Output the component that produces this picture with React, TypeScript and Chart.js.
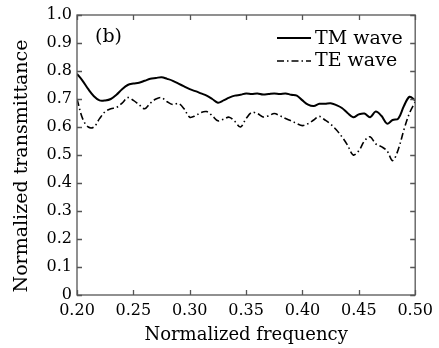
import { useEffect, useRef } from "react";
import { Chart, registerables } from "chart.js";

Chart.register(...registerables);

const frequency = [
  0.2, 0.205, 0.21, 0.215, 0.22, 0.225, 0.23, 0.235, 0.24, 0.245,
  0.25, 0.255, 0.26, 0.265, 0.27, 0.275, 0.28, 0.285, 0.29, 0.295,
  0.3, 0.305, 0.31, 0.315, 0.32, 0.325, 0.33, 0.335, 0.34, 0.345,
  0.35, 0.355, 0.36, 0.365, 0.37, 0.375, 0.38, 0.385, 0.39, 0.395,
  0.4, 0.405, 0.41, 0.415, 0.42, 0.425, 0.43, 0.435, 0.44, 0.445,
  0.45, 0.455, 0.46, 0.465, 0.47, 0.475, 0.48, 0.485, 0.49, 0.495, 0.5,
];

const tmWave = [
  0.79, 0.765, 0.735, 0.71, 0.695, 0.695, 0.7, 0.715, 0.735, 0.75,
  0.755, 0.758, 0.765, 0.772, 0.775, 0.778, 0.772, 0.765, 0.755, 0.745,
  0.735, 0.728, 0.72, 0.712, 0.7, 0.687, 0.695, 0.705, 0.712, 0.715,
  0.72, 0.718, 0.72, 0.716, 0.718, 0.72, 0.718, 0.72, 0.715, 0.712,
  0.695, 0.68, 0.675, 0.683, 0.683, 0.685, 0.678, 0.668, 0.65, 0.635,
  0.645, 0.648, 0.635, 0.655, 0.64, 0.612, 0.625, 0.63, 0.675, 0.708, 0.695,
];

const teWave = [
  0.7, 0.63, 0.6, 0.6, 0.63, 0.655, 0.665, 0.67, 0.685, 0.705,
  0.695, 0.68, 0.665, 0.685, 0.7, 0.705, 0.69, 0.68, 0.684, 0.665,
  0.635, 0.64, 0.652, 0.655, 0.64, 0.622, 0.628, 0.635, 0.62, 0.6,
  0.63, 0.652, 0.648, 0.636, 0.64, 0.648, 0.64, 0.63, 0.622, 0.612,
  0.605, 0.612, 0.625, 0.638, 0.625, 0.61, 0.59, 0.565, 0.535, 0.5,
  0.515, 0.55, 0.565, 0.54, 0.53, 0.515, 0.48, 0.52, 0.59, 0.65, 0.69,
];

const seriesNames = ["TM wave", "TE wave"];
const panelLabel = "(b)";
const xTitle = "Normalized frequency";
const yTitle = "Normalized transmittance";

const FONT = "'DejaVu Serif', serif";
const TE_DASH = [7, 3, 1.5, 3];

const decor = {
  id: "decor",
  beforeDraw(chart: any) {
    const { ctx, width, height } = chart;
    ctx.save();
    ctx.fillStyle = "#ffffff";
    ctx.fillRect(0, 0, width, height);
    ctx.restore();
  },
  afterDatasetsDraw(chart: any) {
    const { ctx, chartArea: a, scales } = chart;
    const xs = scales.x;
    const ys = scales.y;
    ctx.save();
    ctx.strokeStyle = "#555";
    ctx.lineWidth = 1.3;
    ctx.setLineDash([]);
    ctx.strokeRect(a.left, a.top, a.right - a.left, a.bottom - a.top);
    ctx.beginPath();
    const tl = 5;
    xs.ticks.forEach((t: any) => {
      const p = Math.round(xs.getPixelForValue(t.value)) + 0.5;
      ctx.moveTo(p, a.bottom);
      ctx.lineTo(p, a.bottom - tl);
      ctx.moveTo(p, a.top);
      ctx.lineTo(p, a.top + tl);
    });
    ys.ticks.forEach((t: any) => {
      const p = Math.round(ys.getPixelForValue(t.value)) + 0.5;
      ctx.moveTo(a.left, p);
      ctx.lineTo(a.left + tl, p);
      ctx.moveTo(a.right, p);
      ctx.lineTo(a.right - tl, p);
    });
    ctx.stroke();

    // legend
    ctx.fillStyle = "#000";
    ctx.strokeStyle = "#000";
    ctx.font = `19px ${FONT}`;
    ctx.textBaseline = "alphabetic";
    ctx.textAlign = "left";
    const lx0 = 277;
    const lx1 = 311;
    const rows = [
      { y: 38, base: 43.5, dash: [] as number[], w: 2 },
      { y: 61, base: 65.5, dash: TE_DASH, w: 1.6 },
    ];
    rows.forEach((r, i) => {
      ctx.beginPath();
      ctx.lineWidth = r.w;
      ctx.setLineDash(r.dash);
      ctx.moveTo(lx0, r.y);
      ctx.lineTo(lx1, r.y);
      ctx.stroke();
      ctx.setLineDash([]);
      ctx.fillText(seriesNames[i], 315, r.base);
    });

    // panel label
    ctx.fillText(panelLabel, 95, 42);

    // y title
    ctx.save();
    ctx.translate(22, 166);
    ctx.rotate(-Math.PI / 2);
    ctx.textAlign = "center";
    ctx.textBaseline = "middle";
    ctx.font = `19px ${FONT}`;
    ctx.fillText(yTitle, 0, 0);
    ctx.restore();

    ctx.restore();
  },
};

export default function App() {
  const ref = useRef<HTMLCanvasElement | null>(null);
  useEffect(() => {
    if (!ref.current) return;
    const chart = new Chart(ref.current, {
      type: "line",
      data: {
        datasets: [
          {
            label: seriesNames[0],
            data: frequency.map((f, i) => ({ x: f, y: tmWave[i] })),
            borderColor: "#000",
            borderWidth: 2,
            pointRadius: 0,
            tension: 0.35,
            fill: false,
          },
          {
            label: seriesNames[1],
            data: frequency.map((f, i) => ({ x: f, y: teWave[i] })),
            borderColor: "#000",
            borderWidth: 1.6,
            borderDash: TE_DASH,
            pointRadius: 0,
            tension: 0.35,
            fill: false,
          },
        ],
      },
      options: {
        responsive: false,
        animation: false,
        layout: { padding: { top: 15, right: 21, left: 0, bottom: 0 } },
        plugins: { legend: { display: false }, tooltip: { enabled: false } },
        scales: {
          x: {
            type: "linear",
            min: 0.2,
            max: 0.5,
            grid: { display: false, drawTicks: false },
            border: { display: false },
            ticks: {
              stepSize: 0.05,
              padding: 6,
              color: "#000",
              font: { family: FONT, size: 16 },
              maxRotation: 0,
              callback: (v: any) => Number(v).toFixed(2),
            },
            title: {
              display: true,
              text: xTitle,
              color: "#000",
              font: { family: FONT, size: 18 },
              padding: { top: 0, bottom: 2 },
            },
            afterFit: (s: any) => {
              s.height = 53;
            },
          },
          y: {
            type: "linear",
            min: 0,
            max: 1,
            grid: { display: false, drawTicks: false },
            border: { display: false },
            ticks: {
              stepSize: 0.1,
              padding: 5,
              color: "#000",
              font: { family: FONT, size: 16 },
              callback: (v: any) => (Number(v) === 0 ? "0" : Number(v).toFixed(1)),
            },
            afterFit: (s: any) => {
              s.width = 77;
            },
          },
        },
      },
      plugins: [decor],
    });
    return () => chart.destroy();
  }, []);
  return (
    <div style={{ position: "absolute", left: 0, top: 0, width: 439, height: 348 }}>
      <canvas ref={ref} width={439} height={348} />
    </div>
  );
}
